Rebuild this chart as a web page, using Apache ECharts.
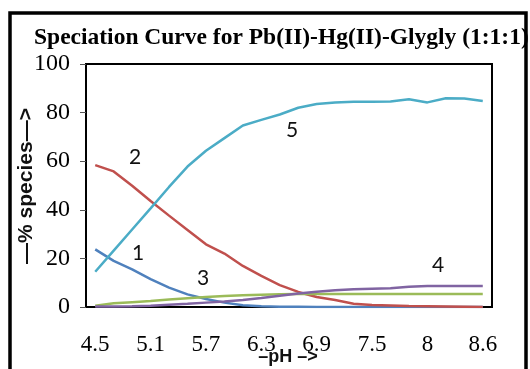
<!DOCTYPE html>
<html>
<head>
<meta charset="utf-8">
<script src="https://cdn.jsdelivr.net/npm/echarts@6/dist/echarts.min.js"></script>
<style>
  html, body { margin: 0; padding: 0; background: #fff; }
  #chart { width: 530px; height: 369px; }
</style>
</head>
<body>
<div id="chart"></div>
<script>
// pH categories (only every third one gets a label, like the excel chart)
const phValues = ['4.5', '4.7', '4.9', '5.1', '5.3', '5.5', '5.7', '5.9', '6.1', '6.3', '6.5',
  '6.7', '6.9', '7.1', '7.3', '7.5', '7.6', '7.8', '8', '8.2', '8.4', '8.6'];

// % species
const species1 = [23.7, 19.0, 15.5, 11.5, 8.0, 5.2, 3.3, 1.8, 0.7, 0.3, 0.1,
  0.1, 0, 0, 0, 0, 0, 0, 0, 0, 0, 0];
const species2 = [58.4, 55.8, 49.9, 43.6, 37.6, 31.7, 25.8, 22.0, 16.9, 12.8, 9.0,
  6.2, 4.1, 2.9, 1.3, 0.8, 0.6, 0.4, 0.3, 0.2, 0.1, 0];
const species3 = [0.5, 1.5, 2.0, 2.5, 3.1, 3.6, 4.1, 4.5, 4.8, 5.0, 5.2,
  5.3, 5.3, 5.3, 5.3, 5.3, 5.3, 5.3, 5.3, 5.3, 5.3, 5.3];
const species4 = [0.2, 0.2, 0.3, 0.5, 0.9, 1.3, 1.8, 2.3, 2.9, 3.7, 4.6,
  5.6, 6.3, 6.9, 7.3, 7.5, 7.7, 8.3, 8.6, 8.6, 8.6, 8.6];
const species5 = [14.5, 23.2, 31.9, 40.6, 49.4, 57.8, 64.3, 69.5, 74.7, 77.0, 79.2,
  82.0, 83.5, 84.2, 84.5, 84.5, 84.6, 85.5, 84.2, 85.9, 85.8, 84.8];

const yTicks = [0, 20, 40, 60, 80, 100];

const chart = echarts.init(document.getElementById('chart'), null, { renderer: 'canvas' });

function line(name, values, color) {
  return {
    name: name,
    type: 'line',
    data: values,
    symbol: 'none',
    smooth: false,
    lineStyle: { color: color, width: 2.5 },
    itemStyle: { color: color }
  };
}

// little number tags next to each curve
function tag(text, x, y) {
  return {
    type: 'text',
    x: x,
    y: y,
    style: {
      text: text,
      font: '21px Lato',
      fill: '#111',
      align: 'center',
      verticalAlign: 'middle'
    }
  };
}

const option = {
  backgroundColor: '#fff',
  animation: false,
  title: {
    text: 'Speciation Curve for Pb(II)-Hg(II)-Glygly (1:1:1)',
    left: 29,
    top: 21,
    textStyle: {
      fontFamily: 'Liberation Serif',
      fontWeight: 'bold',
      fontSize: 23.5,
      color: '#000'
    }
  },
  grid: {
    left: 86,
    right: 38,
    top: 64,
    bottom: 62,
    show: true,
    borderColor: '#000',
    borderWidth: 2
  },
  xAxis: {
    type: 'category',
    data: phValues,
    boundaryGap: true,
    axisLine: { lineStyle: { color: '#000', width: 2 } },
    axisTick: { show: false },
    axisLabel: {
      interval: 2,
      margin: 26,
      fontFamily: 'Liberation Serif',
      fontSize: 23,
      color: '#000'
    }
  },
  yAxis: {
    type: 'value',
    min: yTicks[0],
    max: yTicks[yTicks.length - 1],
    interval: 20,
    splitLine: { show: false },
    axisLine: { show: true, lineStyle: { color: '#000', width: 2 } },
    axisTick: { show: true, length: 6, lineStyle: { color: '#555' } },
    axisLabel: {
      margin: 16,
      fontFamily: 'Liberation Serif',
      fontSize: 24,
      color: '#000'
    }
  },
  series: [
    line('1', species1, '#4F81BD'),
    line('2', species2, '#C0504D'),
    line('3', species3, '#9BBB59'),
    line('4', species4, '#8064A2'),
    line('5', species5, '#4BACC6')
  ],
  graphic: [
    {
      type: 'rect',
      shape: { x: 10, y: 13, width: 516, height: 400 },
      style: { fill: null, stroke: '#000', lineWidth: 3.5 },
      silent: true
    },
    {
      type: 'text',
      x: 26,
      y: 186,
      rotation: Math.PI / 2,
      style: {
        text: '\u2014% species\u2014>',
        font: 'bold 21px "Liberation Sans"',
        fill: '#111',
        align: 'center',
        verticalAlign: 'middle'
      }
    },
    {
      type: 'text',
      x: 288,
      y: 357,
      style: {
        text: '\u2013pH \u2013>',
        font: 'bold 18px "Liberation Sans"',
        fill: '#111',
        align: 'center',
        verticalAlign: 'middle'
      }
    },
    tag('2', 135, 157),
    tag('1', 138, 253),
    tag('3', 203, 278),
    tag('4', 438, 265),
    tag('5', 292, 130)
  ]
};

chart.setOption(option);
</script>
</body>
</html>
